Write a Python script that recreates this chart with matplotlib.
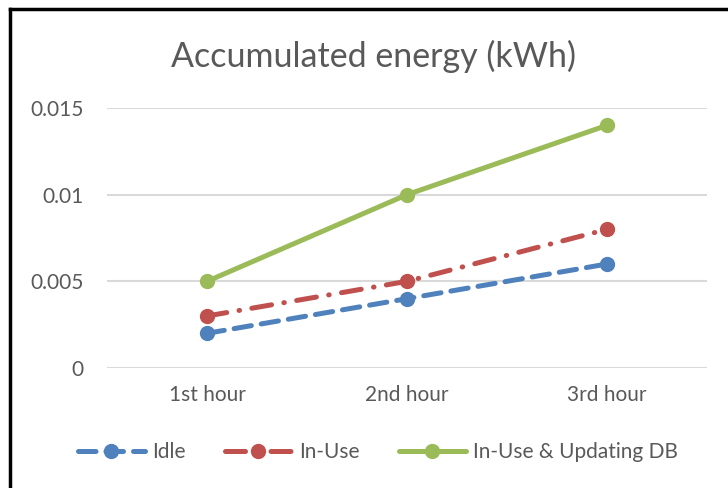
import matplotlib
matplotlib.use("Agg")
import matplotlib.pyplot as plt
from matplotlib.lines import Line2D

categories = ["1st hour", "2nd hour", "3rd hour"]
idle = [0.002, 0.004, 0.006]
in_use = [0.003, 0.005, 0.008]
in_use_db = [0.005, 0.010, 0.014]
yticks = [0, 0.005, 0.01, 0.015]
ytick_labels = ["0", "0.005", "0.01", "0.015"]

plt.rcParams['font.family'] = ['Lato', 'DejaVu Sans']
gray = "#595959"

fig = plt.figure(figsize=(7.28, 4.88), dpi=100)
ax = fig.add_axes([107/728, 1-368/488, 600/728, 260/488])

x = list(range(len(categories)))
lw = 3.6
ms = 10
ax.plot(x, idle, color="#4F81BD", lw=lw, marker="o", ms=ms, dashes=(3.5, 2), label="Idle", solid_capstyle="round", dash_capstyle="round")
ax.plot(x, in_use, color="#C0504D", lw=lw, marker="o", ms=ms, dashes=(4, 2.5, 0.1, 2.5), label="In-Use", dash_capstyle="round")
ax.plot(x, in_use_db, color="#9BBB59", lw=lw, marker="o", ms=ms, label="In-Use & Updating DB", solid_capstyle="round")

ax.set_xlim(-0.5, 2.5)
ax.set_ylim(0, 0.015)
ax.set_yticks(yticks)
ax.set_yticklabels(ytick_labels)
ax.set_xticks(x)
ax.set_xticklabels(categories)
ax.yaxis.grid(True, color="#D9D9D9", lw=1.5)
ax.set_axisbelow(True)
for s in ax.spines.values():
    s.set_visible(False)
ax.tick_params(length=0, labelsize=15, colors=gray)
ax.tick_params(axis='y', pad=17)
ax.tick_params(axis='x', pad=12)
for lab in ax.get_xticklabels() + ax.get_yticklabels():
    lab.set_color(gray)

fig.text(374/728, 1 - 56/488, "Accumulated energy (kWh)", ha="center", va="center", fontsize=24.5, color=gray)

leg = fig.legend(loc="center", bbox_to_anchor=(378/728, 1 - 452/488), ncol=3, frameon=False,
                 fontsize=15, handlelength=3.2, columnspacing=1.9, handletextpad=0.35)
for t in leg.get_texts():
    t.set_color(gray)

# border (top and left, screenshot crop)
fig.add_artist(Line2D([10/728, 1], [1-9/488, 1-9/488], color="black", lw=2.5, transform=fig.transFigure))
fig.add_artist(Line2D([10/728, 10/728], [0, 1-9/488], color="black", lw=2.5, transform=fig.transFigure))

fig.savefig("out.png", dpi=100, facecolor="white")
